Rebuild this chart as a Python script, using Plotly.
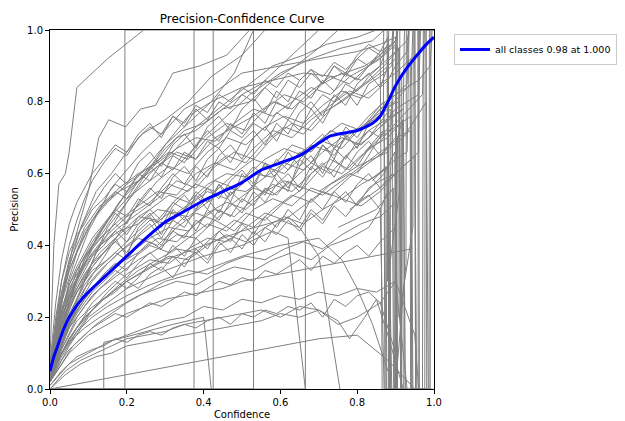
import plotly.graph_objects as go

# ---------------- data ----------------
GRID_A = [0, 0.02, 0.05, 0.09, 0.13, 0.18, 0.23, 0.28, 0.33, 0.38, 0.43, 0.48, 0.53, 0.58, 0.63, 0.68, 0.73, 0.78, 0.83]
GRID_B = [0, 0.03, 0.07, 0.11, 0.15, 0.2, 0.26, 0.31, 0.36, 0.41, 0.46, 0.51, 0.56, 0.61, 0.66, 0.71, 0.76, 0.81, 0.86]
GRID_C = [0, 0.015, 0.03, 0.05, 0.07, 0.09, 0.11, 0.14, 0.17, 0.2, 0.23, 0.26, 0.29, 0.32, 0.35, 0.38,
          0.41, 0.44, 0.47, 0.5, 0.53, 0.56, 0.59, 0.62, 0.65, 0.68, 0.71, 0.74, 0.77, 0.8, 0.83, 0.86]

# per-class curves on shared grids: (grid, precision values, tail confidences, tail precisions)
grid_classes = [
    ("A", [0.05, 0.2, 0.33, 0.44, 0.5, 0.56, 0.6, 0.63, 0.67, 0.7, 0.69, 0.74, 0.78, 0.76, 0.8, 0.84, 0.82, 0.87, 0.9], [0.87, 0.9, 0.905], [0.93, 0.97, 1.0]),
    ("A", [0.04, 0.14, 0.24, 0.32, 0.38, 0.43, 0.48, 0.47, 0.53, 0.57, 0.55, 0.6, 0.64, 0.62, 0.68, 0.66, 0.72, 0.7, 0.76], [0.87, 0.875], [0.8, 0.0]),
    ("A", [0.03, 0.1, 0.18, 0.25, 0.3, 0.35, 0.38, 0.42, 0.41, 0.46, 0.5, 0.48, 0.53, 0.57, 0.55, 0.6, 0.64, 0.61, 0.67], [0.88, 0.92, 0.925], [0.7, 0.75, 0.0]),
    ("A", [0.06, 0.18, 0.29, 0.37, 0.42, 0.47, 0.51, 0.55, 0.54, 0.6, 0.63, 0.61, 0.67, 0.72, 0.7, 0.75, 0.79, 0.83, 0.81], [0.88, 0.9, 0.93, 0.935], [0.86, 0.9, 0.94, 1.0]),
    ("A", [0.02, 0.08, 0.14, 0.2, 0.24, 0.29, 0.33, 0.36, 0.39, 0.38, 0.43, 0.47, 0.45, 0.5, 0.54, 0.52, 0.57, 0.6, 0.58], [0.88, 0.89], [0.62, 0.0]),
    ("A", [0.05, 0.16, 0.26, 0.34, 0.4, 0.45, 0.49, 0.53, 0.58, 0.56, 0.62, 0.66, 0.64, 0.7, 0.74, 0.72, 0.78, 0.82, 0.86], [0.87, 0.91, 0.915], [0.9, 0.95, 0.0]),
    ("A", [0.03, 0.12, 0.2, 0.28, 0.33, 0.38, 0.42, 0.4, 0.45, 0.49, 0.47, 0.52, 0.56, 0.54, 0.58, 0.63, 0.6, 0.66, 0.7], [0.87, 0.9, 0.96, 0.965], [0.74, 0.78, 0.82, 1.0]),
    ("A", [0.07, 0.22, 0.35, 0.45, 0.51, 0.55, 0.58, 0.62, 0.66, 0.64, 0.7, 0.73, 0.76, 0.8, 0.78, 0.83, 0.87, 0.85, 0.9], [0.86, 0.88, 0.885], [0.93, 0.96, 0.0]),
    ("A", [0.02, 0.09, 0.17, 0.23, 0.28, 0.32, 0.36, 0.39, 0.43, 0.42, 0.47, 0.44, 0.5, 0.53, 0.51, 0.56, 0.54, 0.59, 0.63], [0.87, 0.92, 0.98, 0.985], [0.66, 0.7, 0.8, 0.0]),
    ("A", [0.04, 0.15, 0.27, 0.35, 0.4, 0.44, 0.46, 0.5, 0.49, 0.53, 0.58, 0.56, 0.6, 0.59, 0.64, 0.68, 0.66, 0.71, 0.74], [0.88, 0.94, 0.945], [0.78, 0.85, 1.0]),
    ("A", [0.02, 0.08, 0.13, 0.17, 0.2, 0.23, 0.26, 0.28, 0.3, 0.29, 0.32, 0.34, 0.33, 0.36, 0.38, 0.36, 0.4, 0.42, 0.45], [0.86, 0.87], [0.5, 0.0]),
    ("B", [0.05, 0.2, 0.31, 0.38, 0.43, 0.48, 0.52, 0.57, 0.55, 0.61, 0.65, 0.63, 0.69, 0.73, 0.71, 0.77, 0.8, 0.84, 0.88], [0.9, 0.905], [0.92, 0.0]),
    ("B", [0.03, 0.13, 0.22, 0.28, 0.33, 0.37, 0.42, 0.45, 0.44, 0.49, 0.52, 0.5, 0.55, 0.58, 0.56, 0.62, 0.6, 0.65, 0.69], [0.9, 0.97, 0.975], [0.74, 0.82, 1.0]),
    ("B", [0.04, 0.17, 0.27, 0.33, 0.36, 0.41, 0.47, 0.46, 0.51, 0.55, 0.53, 0.58, 0.62, 0.6, 0.65, 0.69, 0.67, 0.73, 0.77], [0.89, 0.895], [0.8, 0.0]),
    ("B", [0.02, 0.1, 0.17, 0.22, 0.26, 0.3, 0.34, 0.37, 0.36, 0.4, 0.43, 0.41, 0.45, 0.48, 0.46, 0.5, 0.53, 0.51, 0.55], [0.9, 0.95, 0.955], [0.6, 0.65, 0.0]),
    ("B", [0.06, 0.24, 0.38, 0.47, 0.52, 0.57, 0.62, 0.66, 0.64, 0.7, 0.74, 0.72, 0.78, 0.82, 0.8, 0.85, 0.88, 0.86, 0.9], [0.9, 0.93, 0.935], [0.94, 0.97, 1.0]),
    ("B", [0.03, 0.11, 0.2, 0.26, 0.3, 0.35, 0.4, 0.38, 0.42, 0.46, 0.44, 0.49, 0.47, 0.52, 0.56, 0.54, 0.58, 0.62, 0.66], [0.91, 0.915], [0.7, 0.0]),
    ("B", [0.05, 0.18, 0.28, 0.35, 0.39, 0.44, 0.5, 0.54, 0.52, 0.57, 0.6, 0.59, 0.64, 0.67, 0.65, 0.7, 0.74, 0.72, 0.78], [0.9, 0.96, 0.99, 0.995], [0.82, 0.86, 0.9, 1.0]),
    ("B", [0.04, 0.14, 0.23, 0.3, 0.35, 0.4, 0.45, 0.49, 0.48, 0.52, 0.56, 0.55, 0.59, 0.63, 0.61, 0.66, 0.7, 0.68, 0.73], [0.92, 0.925], [0.78, 0.0]),
    ("B", [0.02, 0.09, 0.16, 0.22, 0.27, 0.32, 0.36, 0.35, 0.39, 0.42, 0.41, 0.45, 0.49, 0.47, 0.51, 0.55, 0.53, 0.57, 0.6], [0.9, 0.93, 0.935], [0.64, 0.66, 1.0]),
    ("B", [0.06, 0.21, 0.33, 0.41, 0.47, 0.53, 0.58, 0.62, 0.6, 0.66, 0.7, 0.68, 0.73, 0.76, 0.74, 0.79, 0.83, 0.81, 0.85], [0.9, 0.94, 0.945], [0.88, 0.92, 0.0]),
    ("B", [0.03, 0.1, 0.16, 0.2, 0.23, 0.26, 0.29, 0.31, 0.33, 0.32, 0.35, 0.37, 0.36, 0.39, 0.41, 0.39, 0.43, 0.46, 0.48], [0.9, 0.905], [0.52, 1.0]),
    ("C", [0.04, 0.12, 0.19, 0.26, 0.31, 0.36, 0.4, 0.44, 0.49, 0.46, 0.52, 0.56, 0.53, 0.59, 0.62, 0.58, 0.64, 0.67, 0.63, 0.69, 0.72, 0.68, 0.74, 0.71, 0.77, 0.8, 0.76, 0.82, 0.79, 0.85, 0.88, 0.84], [0.88, 0.882], [0.9, 0.0]),
    ("C", [0.03, 0.08, 0.13, 0.18, 0.22, 0.25, 0.28, 0.32, 0.35, 0.33, 0.38, 0.41, 0.39, 0.44, 0.42, 0.47, 0.45, 0.5, 0.48, 0.53, 0.51, 0.56, 0.54, 0.58, 0.55, 0.6, 0.63, 0.59, 0.65, 0.62, 0.67, 0.7], [0.89, 0.893], [0.74, 1.0]),
    ("C", [0.02, 0.06, 0.1, 0.14, 0.17, 0.2, 0.22, 0.25, 0.27, 0.3, 0.28, 0.32, 0.34, 0.31, 0.36, 0.38, 0.35, 0.4, 0.42, 0.39, 0.44, 0.41, 0.46, 0.48, 0.45, 0.5, 0.47, 0.52, 0.55, 0.51, 0.56, 0.58], [0.9, 0.903], [0.6, 0.0]),
    ("C", [0.06, 0.17, 0.27, 0.36, 0.42, 0.47, 0.51, 0.56, 0.6, 0.57, 0.63, 0.66, 0.62, 0.68, 0.71, 0.67, 0.73, 0.76, 0.72, 0.78, 0.81, 0.77, 0.83, 0.8, 0.86, 0.89, 0.85, 0.9, 0.87, 0.92, 0.95, 0.93], [0.9, 0.905], [0.97, 1.0]),
    ("C", [0.04, 0.1, 0.16, 0.22, 0.27, 0.3, 0.34, 0.38, 0.42, 0.37, 0.45, 0.48, 0.43, 0.5, 0.47, 0.54, 0.5, 0.57, 0.52, 0.6, 0.56, 0.63, 0.58, 0.55, 0.64, 0.61, 0.68, 0.64, 0.71, 0.67, 0.74, 0.78], [0.91, 0.913], [0.8, 0.0]),
    ("C", [0.05, 0.14, 0.22, 0.29, 0.34, 0.38, 0.42, 0.46, 0.5, 0.48, 0.53, 0.51, 0.56, 0.6, 0.57, 0.62, 0.59, 0.65, 0.68, 0.64, 0.7, 0.73, 0.69, 0.75, 0.72, 0.78, 0.74, 0.8, 0.83, 0.79, 0.85, 0.87], [0.89, 0.895, 0.95, 0.952], [0.9, 1.0, 1.0, 0.0]),
    ("C", [0.03, 0.07, 0.11, 0.15, 0.19, 0.21, 0.24, 0.27, 0.3, 0.28, 0.31, 0.35, 0.33, 0.37, 0.34, 0.39, 0.36, 0.41, 0.38, 0.43, 0.4, 0.45, 0.43, 0.47, 0.44, 0.49, 0.46, 0.51, 0.48, 0.52, 0.54, 0.5], [0.88, 0.884], [0.55, 0.0]),
    ("C", [0.04, 0.11, 0.18, 0.24, 0.29, 0.33, 0.37, 0.4, 0.44, 0.41, 0.46, 0.49, 0.45, 0.51, 0.54, 0.5, 0.56, 0.53, 0.58, 0.61, 0.57, 0.63, 0.6, 0.66, 0.62, 0.68, 0.71, 0.67, 0.73, 0.7, 0.75, 0.79], [0.9, 0.93, 0.933], [0.82, 0.85, 1.0]),
    ("C", [0.05, 0.16, 0.25, 0.33, 0.38, 0.43, 0.47, 0.52, 0.55, 0.53, 0.58, 0.62, 0.59, 0.65, 0.63, 0.68, 0.72, 0.69, 0.74, 0.71, 0.77, 0.74, 0.8, 0.78, 0.83, 0.81, 0.86, 0.83, 0.88, 0.86, 0.9, 0.92], [0.88, 0.886], [0.95, 0.0]),
    ("C", [0.02, 0.05, 0.08, 0.11, 0.13, 0.15, 0.17, 0.19, 0.21, 0.2, 0.22, 0.24, 0.23, 0.25, 0.27, 0.26, 0.28, 0.3, 0.29, 0.31, 0.3, 0.33, 0.32, 0.34, 0.36, 0.33, 0.37, 0.35, 0.38, 0.4, 0.37, 0.41], [0.9, 0.905], [0.45, 0.0]),
    ("C", [0.06, 0.2, 0.3, 0.38, 0.43, 0.46, 0.5, 0.53, 0.57, 0.55, 0.6, 0.58, 0.63, 0.61, 0.66, 0.64, 0.69, 0.67, 0.72, 0.7, 0.74, 0.72, 0.77, 0.75, 0.8, 0.78, 0.82, 0.8, 0.85, 0.83, 0.87, 0.9], [0.87, 0.9, 0.902], [0.93, 0.96, 0.0]),
    ("C", [0.03, 0.09, 0.15, 0.21, 0.25, 0.29, 0.32, 0.35, 0.38, 0.36, 0.4, 0.43, 0.4, 0.45, 0.48, 0.44, 0.5, 0.47, 0.52, 0.49, 0.55, 0.52, 0.57, 0.6, 0.56, 0.62, 0.59, 0.64, 0.61, 0.66, 0.69, 0.65], [0.9, 0.94, 0.943], [0.7, 0.72, 0.0]),
    ("C", [0.05, 0.18, 0.3, 0.4, 0.47, 0.53, 0.58, 0.63, 0.67, 0.65, 0.7, 0.73, 0.71, 0.76, 0.74, 0.79, 0.77, 0.82, 0.8, 0.84, 0.82, 0.86, 0.84, 0.88, 0.86, 0.89, 0.87, 0.91, 0.89, 0.92, 0.9, 0.94], [0.89, 0.893], [0.96, 1.0]),
    ("C", [0.01, 0.03, 0.05, 0.07, 0.09, 0.1, 0.11, 0.12, 0.14, 0.13, 0.15, 0.16, 0.15, 0.17, 0.18, 0.17, 0.19, 0.2, 0.18, 0.21, 0.2, 0.22, 0.21, 0.23, 0.22, 0.24, 0.2, 0.25, 0.23, 0.26, 0.27, 0.24], [0.9, 0.95, 0.96], [0.3, 0.15, 0.0]),
    ("C", [0.04, 0.13, 0.21, 0.28, 0.32, 0.35, 0.39, 0.43, 0.46, 0.43, 0.48, 0.5, 0.47, 0.52, 0.5, 0.55, 0.52, 0.57, 0.54, 0.58, 0.62, 0.59, 0.64, 0.61, 0.66, 0.63, 0.68, 0.65, 0.7, 0.68, 0.72, 0.74], [0.92, 0.923], [0.78, 1.0]),
    ("C", [0.03, 0.1, 0.17, 0.23, 0.27, 0.31, 0.34, 0.38, 0.41, 0.38, 0.43, 0.46, 0.42, 0.47, 0.45, 0.5, 0.53, 0.49, 0.55, 0.52, 0.57, 0.54, 0.6, 0.56, 0.62, 0.65, 0.6, 0.67, 0.64, 0.69, 0.72, 0.7], [0.94, 0.942], [0.76, 0.0]),
    ("C", [0.07, 0.24, 0.36, 0.46, 0.52, 0.56, 0.6, 0.64, 0.68, 0.66, 0.71, 0.74, 0.7, 0.76, 0.73, 0.78, 0.75, 0.8, 0.78, 0.82, 0.8, 0.84, 0.81, 0.86, 0.84, 0.88, 0.85, 0.9, 0.88, 0.93, 0.96, 0.94], [0.88, 0.883], [0.98, 0.0]),
    ("C", [0.02, 0.07, 0.12, 0.17, 0.21, 0.24, 0.27, 0.3, 0.33, 0.31, 0.35, 0.38, 0.35, 0.4, 0.37, 0.42, 0.39, 0.44, 0.41, 0.46, 0.43, 0.48, 0.45, 0.5, 0.47, 0.53, 0.5, 0.55, 0.52, 0.57, 0.6, 0.56], [0.92, 0.96, 0.962], [0.62, 0.66, 1.0]),
]

# per-class curves with their own confidence points
free_classes = [
    ([0, 0.01, 0.023, 0.04, 0.05, 0.07, 0.15, 0.244], [0.08, 0.4, 0.57, 0.6, 0.66, 0.84, 0.92, 1.0]),
    ([0, 0.03, 0.06, 0.088, 0.1, 0.127, 0.153, 0.197, 0.236, 0.275, 0.32, 0.39, 0.46, 0.52], [0.05, 0.25, 0.4, 0.51, 0.55, 0.7, 0.75, 0.73, 0.78, 0.79, 0.88, 0.9, 0.93, 1.0]),
    ([0, 0.04, 0.08, 0.12, 0.16, 0.2, 0.24, 0.3, 0.36, 0.42, 0.5, 0.56], [0.03, 0.3, 0.45, 0.55, 0.6, 0.66, 0.71, 0.75, 0.8, 0.87, 0.93, 1.0]),
    ([0, 0.05, 0.1, 0.15, 0.2, 0.25, 0.3, 0.35, 0.4, 0.45, 0.5, 0.55, 0.6, 0.65, 0.7], [0.02, 0.2, 0.33, 0.45, 0.52, 0.6, 0.67, 0.72, 0.74, 0.78, 0.82, 0.85, 0.9, 0.95, 1.0]),
    ([0, 0.03, 0.07, 0.12, 0.18, 0.25, 0.3, 0.36, 0.42, 0.48, 0.53], [0.04, 0.18, 0.3, 0.42, 0.52, 0.6, 0.68, 0.74, 0.8, 0.88, 1.0]),
    ([0, 0.04, 0.08, 0.14, 0.2, 0.27, 0.33, 0.38, 0.45, 0.52, 0.58, 0.64, 0.7, 0.75], [0.03, 0.2, 0.35, 0.45, 0.55, 0.62, 0.7, 0.72, 0.78, 0.8, 0.86, 0.9, 0.95, 1.0]),
    ([0, 0.05, 0.1, 0.16, 0.22, 0.28, 0.34, 0.4, 0.46, 0.52, 0.6, 0.68, 0.76, 0.84, 0.87], [0.02, 0.18, 0.3, 0.4, 0.5, 0.58, 0.63, 0.7, 0.76, 0.82, 0.88, 0.92, 0.95, 0.97, 1.0]),
    ([0, 0.06, 0.12, 0.2, 0.26, 0.32, 0.38, 0.46, 0.52, 0.58, 0.66, 0.72, 0.8, 0.85], [0.03, 0.22, 0.38, 0.52, 0.6, 0.66, 0.73, 0.8, 0.85, 0.9, 0.93, 0.96, 0.98, 1.0]),
    ([0, 0.04, 0.09, 0.15, 0.22, 0.3, 0.36, 0.42, 0.5, 0.58, 0.66, 0.74, 0.82, 0.86, 0.865], [0.04, 0.22, 0.36, 0.47, 0.58, 0.68, 0.76, 0.8, 0.84, 0.86, 0.88, 0.87, 0.9, 0.93, 0.0]),
    ([0, 0.05, 0.1, 0.16, 0.24, 0.3, 0.35, 0.42, 0.5, 0.6, 0.7, 0.8, 0.86, 0.9, 0.905], [0.05, 0.3, 0.44, 0.56, 0.66, 0.72, 0.78, 0.82, 0.88, 0.9, 0.92, 0.94, 0.96, 0.98, 0.0]),
    ([0, 0.1, 0.2, 0.3, 0.4, 0.5, 0.6, 0.7, 0.8, 0.88, 0.95], [0.0, 0.02, 0.04, 0.06, 0.08, 0.1, 0.12, 0.14, 0.15, 0.08, 0.0]),
    ([0, 0.04, 0.08, 0.12, 0.16, 0.2, 0.25, 0.3, 0.35, 0.4, 0.45, 0.5, 0.55, 0.6, 0.65, 0.7, 0.75, 0.8, 0.86, 0.9], [0.0, 0.04, 0.07, 0.09, 0.1, 0.12, 0.13, 0.14, 0.15, 0.16, 0.17, 0.18, 0.19, 0.21, 0.2, 0.22, 0.18, 0.2, 0.24, 0.1]),
    ([0, 0.04, 0.08, 0.12, 0.16, 0.2, 0.25, 0.3, 0.35, 0.4, 0.45, 0.5, 0.55, 0.6, 0.65, 0.7, 0.75, 0.78, 0.82, 0.85, 0.88, 0.92], [0.0, 0.05, 0.08, 0.1, 0.12, 0.14, 0.15, 0.16, 0.18, 0.19, 0.2, 0.21, 0.22, 0.2, 0.23, 0.22, 0.19, 0.14, 0.2, 0.25, 0.15, 0.0]),
    ([0, 0.05, 0.1, 0.15, 0.2, 0.25, 0.3, 0.35, 0.4, 0.45, 0.5, 0.55, 0.6, 0.65, 0.7, 0.75, 0.8, 0.85, 0.9, 0.93], [0.01, 0.07, 0.1, 0.13, 0.15, 0.17, 0.19, 0.2, 0.23, 0.22, 0.25, 0.24, 0.26, 0.25, 0.27, 0.26, 0.28, 0.27, 0.3, 0.0]),
    ([0, 0.05, 0.1, 0.15, 0.2, 0.25, 0.3, 0.35, 0.4, 0.45, 0.5, 0.6, 0.7, 0.8, 0.9, 0.94], [0.02, 0.1, 0.15, 0.18, 0.21, 0.23, 0.25, 0.26, 0.27, 0.28, 0.3, 0.32, 0.34, 0.36, 0.38, 0.39]),
    ([0, 0.05, 0.1, 0.2, 0.3, 0.4, 0.5, 0.58, 0.62, 0.665], [0.02, 0.12, 0.2, 0.28, 0.33, 0.37, 0.4, 0.44, 0.42, 0.0]),
    ([0, 0.05, 0.1, 0.2, 0.3, 0.4, 0.5, 0.6, 0.65, 0.7, 0.755], [0.03, 0.14, 0.22, 0.3, 0.36, 0.4, 0.44, 0.47, 0.45, 0.37, 0.0]),
    ([0, 0.06, 0.12, 0.2, 0.3, 0.4, 0.5, 0.6, 0.7, 0.76, 0.8, 0.84, 0.88], [0.02, 0.12, 0.18, 0.24, 0.3, 0.33, 0.37, 0.4, 0.42, 0.36, 0.28, 0.18, 0.05]),
    ([0.14, 0.14, 0.18, 0.25, 0.32, 0.4, 0.42], [0.0, 0.13, 0.14, 0.16, 0.18, 0.2, 0.0]),
    ([0, 0.195, 0.195, 1.0], [0.0, 0.0, 1.0, 1.0]),
    ([0, 0.375, 0.375, 1.0], [0.0, 0.0, 1.0, 1.0]),
    ([0, 0.425, 0.425, 1.0], [0.0, 0.0, 1.0, 1.0]),
    ([0, 0.53, 0.53, 1.0], [0.0, 0.0, 1.0, 1.0]),
    ([0, 0.665, 0.665, 1.0], [0.0, 0.0, 1.0, 1.0]),
    ([0.8, 0.86, 0.87, 0.872, 0.9, 0.902, 0.95, 0.952], [0.6, 0.7, 0.72, 0.0, 0.0, 1.0, 1.0, 0.0]),
    ([0.7, 0.8, 0.88, 0.882, 0.96, 0.962, 0.99, 0.992], [0.55, 0.62, 0.66, 1.0, 1.0, 0.0, 0.0, 1.0]),
    ([0.75, 0.85, 0.895, 0.897, 0.97, 0.972], [0.45, 0.5, 0.56, 0.0, 0.0, 1.0]),
    ([0.82, 0.868, 0.869, 0.878, 0.879, 0.91, 0.911, 0.98, 0.981], [0.66, 0.72, 1.0, 1.0, 0.3, 0.55, 1.0, 1.0, 0.0]),
    ([0.84, 0.875, 0.877, 0.9, 0.905, 0.918, 0.92, 0.987, 0.988], [0.58, 0.62, 0.0, 0.0, 0.7, 0.75, 0.0, 0.0, 1.0]),
    ([0.78, 0.86, 0.892, 0.893, 0.908, 0.909, 0.945, 0.946], [0.5, 0.56, 0.6, 0.95, 0.95, 0.2, 0.45, 1.0]),
    ([0.8, 0.87, 0.898, 0.899, 0.927, 0.928, 0.958, 0.959, 0.997], [0.52, 0.6, 0.66, 0.0, 0.35, 1.0, 1.0, 0.0, 0.0]),
    ([0.83, 0.886, 0.887, 0.915, 0.916, 0.938, 0.939, 0.976, 0.977], [0.7, 0.78, 0.0, 0.0, 0.88, 0.9, 0.0, 0.0, 1.0]),
]

# all-classes mean curve
mean_conf = [0, 0.01, 0.02, 0.035, 0.05, 0.075, 0.1, 0.15, 0.2, 0.25, 0.3, 0.35, 0.4, 0.45, 0.5, 0.55, 0.6, 0.65, 0.7, 0.73, 0.75, 0.8, 0.84, 0.86, 0.88, 0.9, 0.93, 0.96, 0.98, 1.0]
mean_prec = [0.05, 0.09, 0.12, 0.165, 0.2, 0.24, 0.27, 0.32, 0.37, 0.42, 0.465, 0.495, 0.525, 0.55, 0.575, 0.61, 0.63, 0.65, 0.685, 0.705, 0.71, 0.72, 0.74, 0.76, 0.8, 0.845, 0.895, 0.935, 0.96, 0.98]
legend_label = "all classes 0.98 at 1.000"

# ---------------- figure ----------------
# the page body adds an 8 px offset, so the figure is 8 px smaller and margins shifted
W, H, OFF = 617, 413, 8
L, T, R, B = 50 - OFF, 30 - OFF, 434 - OFF, 389 - OFF

grids = {"A": GRID_A, "B": GRID_B, "C": GRID_C}
fig = go.Figure()
grey = dict(color="#808080", width=1)
for g, ys, tx, ty in grid_classes:
    fig.add_trace(go.Scatter(x=grids[g] + tx, y=ys + ty, mode="lines", line=grey,
                             showlegend=False, hoverinfo="skip"))
for xs, ys in free_classes:
    fig.add_trace(go.Scatter(x=xs, y=ys, mode="lines", line=grey,
                             showlegend=False, hoverinfo="skip"))
fig.add_trace(go.Scatter(x=mean_conf, y=mean_prec, mode="lines", name=legend_label,
                         line=dict(color="blue", width=3, shape="spline", smoothing=0.6)))

axis = dict(range=[0, 1], tickvals=[0, 0.2, 0.4, 0.6, 0.8, 1.0], tickformat=".1f",
            showgrid=False, zeroline=False, showline=True, linecolor="black", linewidth=1,
            mirror=True, ticks="outside", ticklen=4, tickcolor="black", automargin=False,
            tickfont=dict(family="DejaVu Sans", size=10, color="black"))
fig.update_layout(
    width=W, height=H,
    margin=dict(l=L, r=W - R, t=T, b=H - B, autoexpand=False),
    paper_bgcolor="white", plot_bgcolor="white",
    title=dict(text="Precision-Confidence Curve", x=((L + R) / 2) / W, xanchor="center",
               y=1 - (19 - OFF) / H, yanchor="middle",
               font=dict(family="DejaVu Sans", size=12, color="black")),
    xaxis=dict(axis, title=dict(text="Confidence", standoff=3,
                                font=dict(family="DejaVu Sans", size=10, color="black"))),
    yaxis=dict(axis, title=dict(text="Precision", standoff=6,
                                font=dict(family="DejaVu Sans", size=10, color="black"))),
    legend=dict(x=(454 - OFF - L) / (R - L), y=1 - (34 - 30) / (B - T), xanchor="left", yanchor="top",
                bgcolor="white", bordercolor="#cccccc", borderwidth=1, itemwidth=30,
                font=dict(family="DejaVu Sans", size=9.5, color="black")),
    showlegend=True,
)
fig.write_html("out.html")
